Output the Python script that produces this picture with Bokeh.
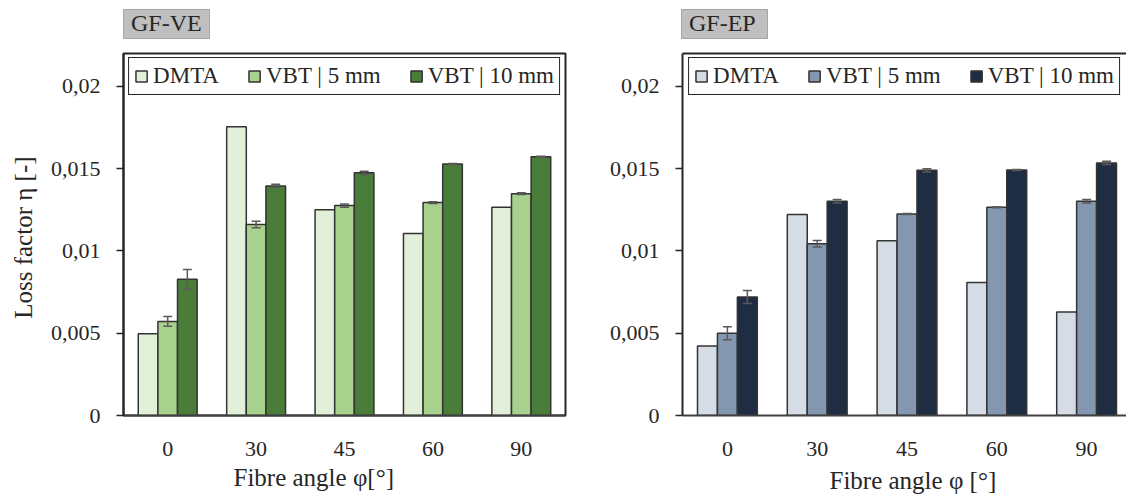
from bokeh.plotting import figure
from bokeh.models import (ColumnDataSource, Range1d, FixedTicker, Title, Whisker,
                          TeeHead, LinearAxis, Legend, LegendItem, Div, Spacer)
from bokeh.layouts import row, column
from bokeh.embed import file_html
from bokeh.resources import INLINE

# ---------------- data ----------------
angles = ["0", "30", "45", "60", "90"]
series = ["DMTA", "VBT | 5 mm", "VBT | 10 mm"]

ve_dmta = [0.00497, 0.01755, 0.01250, 0.01106, 0.01266]
ve_vbt5 = [0.00572, 0.01161, 0.01276, 0.01294, 0.01348]
ve_vbt10 = [0.00828, 0.01395, 0.01475, 0.01528, 0.01572]
ve_vbt5_err = [0.0003, 0.0002, 0.0001, 0.00005, 0.00005]
ve_vbt10_err = [0.0006, 0.0001, 0.0001, 0.00003, 0.00003]

ep_dmta = [0.00423, 0.01221, 0.01062, 0.00809, 0.00629]
ep_vbt5 = [0.00500, 0.01044, 0.01225, 0.01266, 0.01302]
ep_vbt10 = [0.00720, 0.01302, 0.01490, 0.01492, 0.01535]
ep_vbt5_err = [0.0004, 0.0002, 0.00003, 0.00003, 0.0001]
ep_vbt10_err = [0.0004, 0.0001, 0.0001, 0.00003, 0.0001]

ve_colors = ["#e2f0d9", "#a9d18e", "#4b7d3a"]
ep_colors = ["#d6dce5", "#8497b0", "#1f2d42"]

y_ticks = [0, 0.005, 0.01, 0.015, 0.02]
y_tick_labels = ["0", "0,005", "0,01", "0,015", "0,02"]

panel_titles = ["GF-VE", "GF-EP"]

FONT = "Liberation Serif"
TXT = "#262626"
BAR_W = 0.222
TITLE_ROW_H = 39
FIG_H = 499 - TITLE_ROW_H
FRAME_BOTTOM_BORDER = 83


def make_panel(vals, errs, colors, width, bl, br, x_end, ylabel,
               xlabel, xlabel_offset, xlabel_standoff, right_outline):
    p = figure(width=width, height=FIG_H, output_backend="svg", toolbar_location=None,
               title=None,
               x_range=Range1d(0, x_end), y_range=Range1d(0, 0.022),
               min_border_left=bl, min_border_right=br, min_border_top=14,
               min_border_bottom=FRAME_BOTTOM_BORDER, background_fill_color="white",
               border_fill_color="white")
    p.xgrid.visible = False
    p.ygrid.visible = False
    centers = [i + 0.5 for i in range(len(angles))]
    offsets = [-BAR_W, 0.0, BAR_W]
    items = []
    for k, (v, c, name) in enumerate(zip(vals, colors, series)):
        xs = [cx + offsets[k] for cx in centers]
        src = ColumnDataSource(dict(x=xs, top=v))
        r = p.vbar(x="x", top="top", width=BAR_W, source=src, fill_color=c,
                   line_color="#333333", line_width=1.5)
        items.append(LegendItem(label=name, renderers=[r]))
        if errs[k] is not None:
            esrc = ColumnDataSource(dict(
                x=xs, upper=[a + b for a, b in zip(v, errs[k])],
                lower=[a - b for a, b in zip(v, errs[k])]))
            w = Whisker(base="x", upper="upper", lower="lower", source=esrc,
                        line_color="#5a5a5a", line_width=1.5, level="overlay",
                        upper_head=TeeHead(size=9, line_color="#5a5a5a", line_width=1.5),
                        lower_head=TeeHead(size=9, line_color="#5a5a5a", line_width=1.5))
            p.add_layout(w)

    # axes
    xa = p.xaxis[0]
    xa.ticker = FixedTicker(ticks=centers)
    xa.major_label_overrides = dict(zip(centers, angles))
    xa.major_tick_line_color = None
    xa.minor_tick_line_color = None
    xa.axis_line_color = "#404040"
    xa.axis_line_width = 2
    xa.major_label_standoff = 20
    xa.major_label_text_font = FONT
    xa.major_label_text_font_size = "22px"
    xa.major_label_text_color = TXT

    ya = p.yaxis[0]
    ya.ticker = FixedTicker(ticks=y_ticks)
    ya.major_label_overrides = dict(zip(y_ticks, y_tick_labels))
    ya.major_tick_in = 0
    ya.major_tick_out = 7
    ya.major_tick_line_color = "#262626"
    ya.major_tick_line_width = 1.5
    ya.minor_tick_line_color = None
    ya.axis_line_color = "#262626"
    ya.axis_line_width = 2
    ya.major_label_standoff = 16
    ya.major_label_text_font = FONT
    ya.major_label_text_font_size = "22px"
    ya.major_label_text_color = TXT
    if ylabel:
        ya.axis_label = ylabel
        ya.axis_label_text_font = FONT
        ya.axis_label_text_font_size = "25px"
        ya.axis_label_text_font_style = "normal"
        ya.axis_label_text_color = TXT
        ya.axis_label_standoff = 11

    if right_outline:
        p.outline_line_color = "#262626"
        p.outline_line_width = 2
        p.outline_line_alpha = 1
    else:
        p.outline_line_color = None
        top = LinearAxis(major_tick_line_color=None, minor_tick_line_color=None,
                         major_tick_out=0, major_tick_in=0, minor_tick_out=0,
                         minor_tick_in=0, major_label_standoff=0,
                         major_label_text_font_size="0px", axis_line_color="#262626",
                         axis_line_width=2, ticker=FixedTicker(ticks=[]))
        p.add_layout(top, "above")

    leg = Legend(items=items, orientation="horizontal", location="top",
                 label_text_font=FONT, label_text_font_size="23px",
                 label_text_color=TXT, glyph_width=14, glyph_height=14,
                 label_standoff=5, spacing=28, padding=5, margin=4,
                 border_line_color="#262626", border_line_width=1.5,
                 border_line_alpha=1, background_fill_alpha=1)
    p.add_layout(leg)

    # x-axis title
    p.add_layout(Title(text=xlabel, align="left", offset=xlabel_offset,
                       standoff=xlabel_standoff,
                       text_font=FONT, text_font_size="25px", text_font_style="normal",
                       text_color=TXT), "below")
    return p


def title_box(text):
    return Div(text=text, width=87, height=30, margin=(9, 0, 0, 0),
               styles={"background-color": "#bfbfbf",
                       "border": "1.5px solid #a6a6a6",
                       "box-sizing": "border-box",
                       "font-family": FONT,
                       "font-size": "24px",
                       "line-height": "27px",
                       "color": TXT,
                       "padding-left": "7px",
                       "overflow": "hidden"})


left = make_panel([ve_dmta, ve_vbt5, ve_vbt10],
                  [None, ve_vbt5_err, ve_vbt10_err], ve_colors,
                  600, 123, 35, 5.0, "Loss factor  η [-]",
                  "Fibre angle  φ[°]", 110, 6, True)
right = make_panel([ep_dmta, ep_vbt5, ep_vbt10],
                   [None, ep_vbt5_err, ep_vbt10_err], ep_colors,
                   526, 82, 0, 444 / 89.8, None,
                   "Fibre angle  φ [°]", 147, 12, False)

titles_row = row(Spacer(width=123, height=TITLE_ROW_H, margin=0),
                 title_box(panel_titles[0]),
                 Spacer(width=681 - 210, height=TITLE_ROW_H, margin=0),
                 title_box(panel_titles[1]),
                 spacing=0)
layout = column(titles_row, row(left, right, spacing=0), spacing=0)
open("out.html", "w").write(file_html(layout, INLINE))
